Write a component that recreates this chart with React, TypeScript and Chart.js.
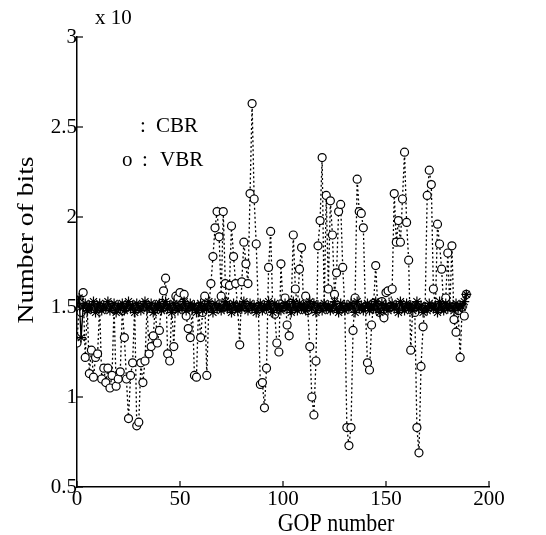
import { useEffect, useRef } from "react";
import { Chart, registerables } from "chart.js";
Chart.register(...registerables);

const xTicks = [0, 50, 100, 150, 200];
const yTicks = [0.5, 1, 1.5, 2, 2.5, 3];

const cbrBits = [
  1.51, 1.55, 1.33, 1.50, 1.52, 1.48, 1.51, 1.49, 1.53, 1.47,
  1.50, 1.52, 1.48, 1.51, 1.49, 1.53, 1.48, 1.50, 1.52, 1.47,
  1.51, 1.49, 1.52, 1.48, 1.50, 1.53, 1.49, 1.51, 1.47, 1.52,
  1.50, 1.48, 1.51, 1.53, 1.49, 1.50, 1.52, 1.47, 1.51, 1.49,
  1.52, 1.48, 1.50, 1.53, 1.49, 1.51, 1.47, 1.52, 1.50, 1.48,
  1.51, 1.49, 1.53, 1.48, 1.50, 1.52, 1.49, 1.51, 1.47, 1.50,
  1.52, 1.48, 1.51, 1.49, 1.53, 1.50, 1.47, 1.52, 1.49, 1.51,
  1.48, 1.50, 1.53, 1.49, 1.51, 1.47, 1.52, 1.50, 1.48, 1.51,
  1.49, 1.53, 1.50, 1.48, 1.52, 1.49, 1.51, 1.47, 1.50, 1.52,
  1.48, 1.51, 1.49, 1.53, 1.50, 1.47, 1.52, 1.49, 1.51, 1.48,
  1.50, 1.52, 1.49, 1.51, 1.47, 1.53, 1.50, 1.48, 1.52, 1.49,
  1.51, 1.48, 1.50, 1.53, 1.49, 1.52, 1.47, 1.51, 1.50, 1.48,
  1.52, 1.49, 1.51, 1.48, 1.50, 1.53, 1.49, 1.47, 1.52, 1.50,
  1.48, 1.51, 1.49, 1.52, 1.50, 1.47, 1.53, 1.49, 1.51, 1.48,
  1.50, 1.52, 1.48, 1.51, 1.49, 1.53, 1.50, 1.47, 1.52, 1.49,
  1.51, 1.48, 1.50, 1.52, 1.49, 1.51, 1.47, 1.53, 1.50, 1.48,
  1.52, 1.49, 1.51, 1.48, 1.50, 1.53, 1.49, 1.51, 1.47, 1.50,
  1.48, 1.52, 1.50, 1.49, 1.51, 1.47, 1.53, 1.50, 1.48, 1.52,
  1.49, 1.51, 1.50, 1.48, 1.52, 1.49, 1.51, 1.50, 1.53, 1.57,
];

const vbrBits = [
  1.30, 1.50, 1.47, 1.58, 1.22, 1.49, 1.13, 1.26, 1.11, 1.22,
  1.24, 1.50, 1.10, 1.16, 1.08, 1.16, 1.05, 1.12, 1.50, 1.06,
  1.10, 1.14, 1.48, 1.33, 1.10, 0.88, 1.12, 1.19, 1.50, 0.84,
  0.86, 1.19, 1.08, 1.20, 1.50, 1.24, 1.28, 1.34, 1.50, 1.30,
  1.37, 1.52, 1.59, 1.66, 1.24, 1.20, 1.50, 1.28, 1.56, 1.55,
  1.58, 1.52, 1.57, 1.45, 1.38, 1.33, 1.50, 1.12, 1.11, 1.50,
  1.33, 1.47, 1.56, 1.12, 1.50, 1.63, 1.78, 1.94, 2.03, 1.89,
  1.56, 2.03, 1.63, 1.50, 1.62, 1.95, 1.78, 1.63, 1.50, 1.29,
  1.64, 1.86, 1.74, 1.63, 2.13, 2.63, 2.10, 1.85, 1.50, 1.07,
  1.08, 0.94, 1.16, 1.72, 1.92, 1.50, 1.46, 1.30, 1.25, 1.74,
  1.50, 1.55, 1.40, 1.34, 1.52, 1.90, 1.60, 1.50, 1.71, 1.83,
  1.50, 1.56, 1.48, 1.28, 1.00, 0.90, 1.20, 1.84, 1.98, 2.33,
  1.50, 2.12, 1.60, 2.09, 1.90, 1.57, 1.69, 2.03, 2.07, 1.72,
  1.50, 0.83, 0.73, 0.83, 1.37, 1.55, 2.21, 2.03, 2.02, 1.94,
  1.50, 1.19, 1.15, 1.40, 1.52, 1.73, 1.50, 1.47, 1.53, 1.44,
  1.58, 1.59, 1.50, 1.60, 2.13, 1.86, 1.98, 1.86, 2.10, 2.36,
  1.97, 1.76, 1.26, 1.50, 1.47, 0.83, 0.69, 1.17, 1.39, 1.50,
  2.12, 2.26, 2.18, 1.60, 1.50, 1.96, 1.85, 1.71, 1.50, 1.55,
  1.80, 1.50, 1.84, 1.43, 1.36, 1.48, 1.22, 1.50, 1.45, 1.57,
];

const serif = '"Liberation Serif", "DejaVu Serif", serif';

const annotatePlugin = {
  id: "annotate",
  afterDraw(chart: any) {
    const ctx = chart.ctx;
    const { left, bottom } = chart.chartArea;
    const xs = chart.scales.x;
    const ys = chart.scales.y;
    ctx.save();
    ctx.strokeStyle = "#000";
    ctx.lineWidth = 1.2;
    yTicks.forEach((v) => {
      const y = ys.getPixelForValue(v);
      ctx.beginPath();
      ctx.moveTo(left, y);
      ctx.lineTo(left + 6, y);
      ctx.stroke();
    });
    xTicks.forEach((v) => {
      const x = xs.getPixelForValue(v);
      ctx.beginPath();
      ctx.moveTo(x, bottom);
      ctx.lineTo(x, bottom - 6);
      ctx.stroke();
    });
    ctx.fillStyle = "#000";
    ctx.textBaseline = "middle";
    ctx.textAlign = "center";
    ctx.font = `22px ${serif}`;
    ctx.save();
    ctx.translate(336, 524);
    ctx.scale(1, 1.14);
    ctx.fillText("GOP number", 0, 0);
    ctx.restore();
    ctx.save();
    ctx.translate(27, 240);
    ctx.rotate(-Math.PI / 2);
    ctx.scale(1.2, 1);
    ctx.font = `23px ${serif}`;
    ctx.fillText("Number of bits", 0, 0);
    ctx.restore();
    ctx.textAlign = "left";
    ctx.font = `21px ${serif}`;
    ctx.fillText("x 10", 95, 18);
    ctx.fillText(":", 140, 126);
    ctx.fillText("CBR", 156, 126);
    ctx.fillText("o", 122, 160);
    ctx.fillText(":", 142, 160);
    ctx.fillText("VBR", 160, 160);
    ctx.restore();
  },
};

const fmt = (v: any) => String(Number(v));

export default function App() {
  const ref = useRef<HTMLCanvasElement | null>(null);
  useEffect(() => {
    if (!ref.current) return;
    const chart = new Chart(ref.current, {
      type: "line",
      data: {
        datasets: [
          {
            label: "CBR",
            data: cbrBits.map((v, i) => ({ x: i, y: v })),
            borderColor: "#000",
            borderWidth: 1.4,
            pointStyle: "star",
            pointRadius: 5,
            pointBorderWidth: 1.2,
            pointBorderColor: "#000",
            pointBackgroundColor: "#000",
            tension: 0,
          },
          {
            label: "VBR",
            data: vbrBits.map((v, i) => ({ x: i, y: v })),
            borderColor: "#000",
            borderWidth: 1.3,
            borderDash: [2, 2.5],
            pointStyle: "circle",
            pointRadius: 4,
            pointBorderWidth: 1.2,
            pointBorderColor: "#000",
            pointBackgroundColor: "#fff",
            tension: 0,
          },
        ],
      },
      options: {
        animation: false,
        responsive: false,
        layout: { padding: { left: 0, top: 37, right: 57, bottom: 0 } },
        plugins: { legend: { display: false }, tooltip: { enabled: false } },
        scales: {
          x: {
            type: "linear",
            min: 0,
            max: 200,
            afterBuildTicks: (s: any) => {
              s.ticks = xTicks.map((v) => ({ value: v }));
            },
            afterFit: (s: any) => {
              s.height = 48;
            },
            ticks: { color: "#000", font: { family: serif, size: 21 }, padding: 0, maxRotation: 0, callback: fmt },
            grid: { drawOnChartArea: false, drawTicks: false },
            border: { display: true, color: "#000", width: 1.5 },
          },
          y: {
            type: "linear",
            min: 0.5,
            max: 3,
            afterBuildTicks: (s: any) => {
              s.ticks = yTicks.map((v) => ({ value: v }));
            },
            afterFit: (s: any) => {
              s.width = 77;
            },
            ticks: { color: "#000", font: { family: serif, size: 21 }, padding: 0, callback: fmt },
            grid: { drawOnChartArea: false, drawTicks: false },
            border: { display: true, color: "#000", width: 1.5 },
          },
        },
      },
      plugins: [annotatePlugin],
    });
    return () => chart.destroy();
  }, []);
  return (
    <div style={{ position: "absolute", left: 0, top: 0, width: 546, height: 535, background: "#fff" }}>
      <canvas ref={ref} width={546} height={535} style={{ width: 546, height: 535 }} />
    </div>
  );
}
